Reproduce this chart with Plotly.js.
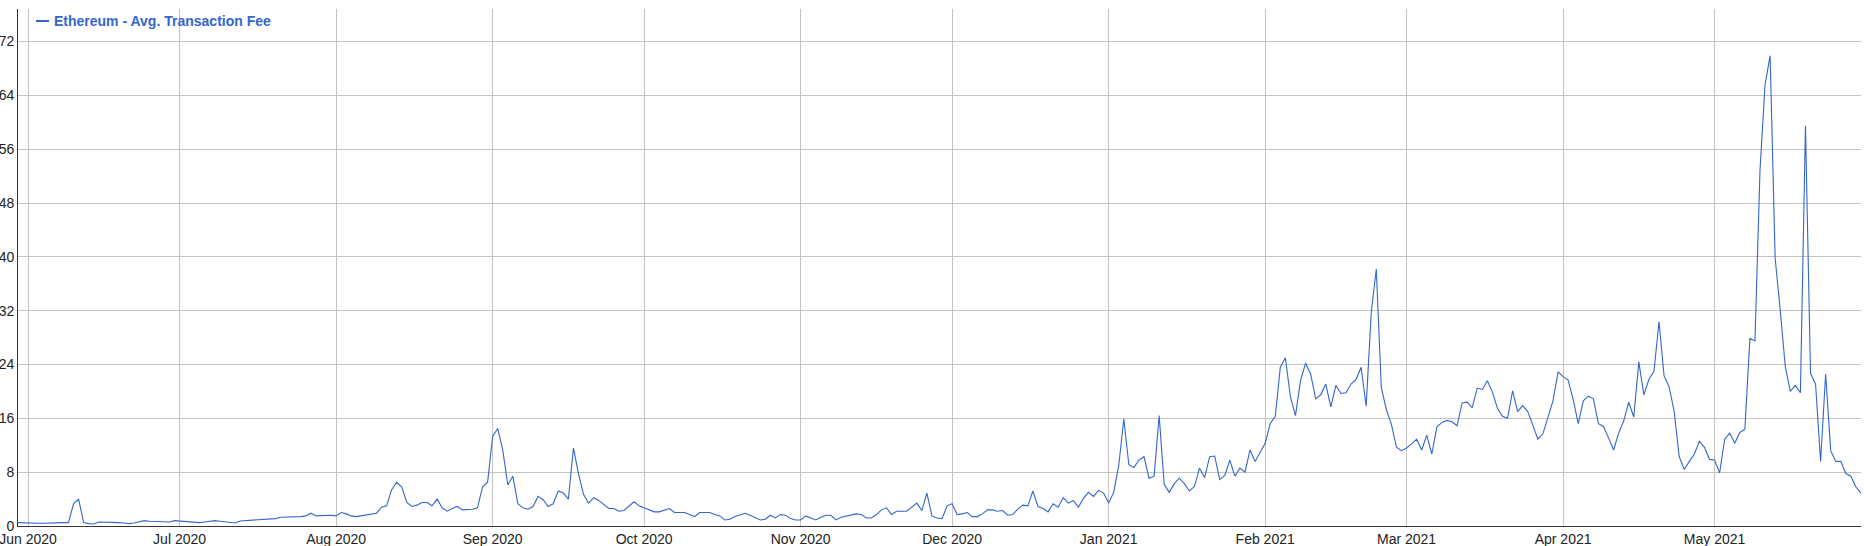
<!DOCTYPE html>
<html>
<head>
<meta charset="utf-8">
<script src="https://cdn.plot.ly/plotly-3.0.1.min.js"></script>
<style>
  html, body { margin: 0; padding: 0; background: #ffffff; }
  #chart { width: 1864px; height: 546px; }
</style>
</head>
<body>
<div id="chart"></div>
<script>
// ---- Data: Ethereum average transaction fee (USD), daily, 30 May 2020 – 30 May 2021 ----
var seriesName = "Ethereum - Avg. Transaction Fee";
var startDate = "2020-05-30";

var fees2020May = [0.5, 0.45];
var fees2020Jun = [0.45, 0.45, 0.4, 0.4, 0.45, 0.45, 0.5, 0.5, 0.5, 3.3,
                   4.0, 0.5, 0.35, 0.3, 0.6, 0.6, 0.6, 0.55, 0.5, 0.45,
                   0.35, 0.45, 0.65, 0.8, 0.7, 0.65, 0.6, 0.6, 0.6, 0.8];
var fees2020Jul = [0.75, 0.7, 0.6, 0.5, 0.5, 0.6, 0.75, 0.8, 0.7, 0.6,
                   0.5, 0.45, 0.75, 0.8, 0.85, 0.9, 0.9, 0.95, 1.0, 1.1,
                   1.3, 1.3, 1.4, 1.4, 1.4, 1.5, 1.9, 1.5, 1.55, 1.5, 1.6];
var fees2020Aug = [1.5, 2.0, 1.8, 1.5, 1.4, 1.5, 1.7, 1.8, 1.9, 2.8,
                   3.0, 5.4, 6.5, 5.8, 3.5, 2.9, 3.1, 3.5, 3.5, 3.0,
                   4.0, 2.7, 2.2, 2.6, 2.9, 2.4, 2.4, 2.5, 2.7, 5.8, 6.5];
var fees2020Sep = [13.3, 14.5, 11.3, 6.1, 7.4, 3.3, 2.7, 2.5, 2.9, 4.4,
                   3.9, 2.9, 3.3, 5.2, 4.9, 4.0, 11.6, 7.8, 4.7, 3.4,
                   4.2, 3.8, 3.2, 2.6, 2.6, 2.2, 2.3, 3.0, 3.6, 3.0];
var fees2020Oct = [2.7, 2.5, 2.1, 2.1, 2.3, 2.6, 2.0, 2.0, 2.0, 1.7,
                   1.4, 2.0, 2.0, 2.0, 1.7, 1.5, 0.9, 1.0, 1.4, 1.7,
                   1.9, 1.6, 1.3, 0.9, 1.0, 1.6, 1.2, 1.7, 1.6, 1.1, 0.9];
var fees2020Nov = [0.9, 1.5, 1.2, 0.9, 1.3, 1.6, 1.6, 0.9, 1.3, 1.5,
                   1.7, 1.8, 1.7, 1.2, 1.2, 1.7, 2.4, 2.7, 1.7, 2.2,
                   2.2, 2.2, 2.8, 3.4, 2.3, 4.9, 1.5, 1.2, 1.1, 3.0];
var fees2020Dec = [3.3, 1.7, 1.8, 2.0, 1.4, 1.4, 1.8, 2.4, 2.4, 2.2,
                   2.3, 1.6, 1.7, 2.5, 3.1, 3.0, 5.2, 2.9, 2.6, 2.1,
                   3.3, 2.8, 4.2, 3.4, 3.8, 2.8, 4.1, 5.0, 4.4, 5.3, 4.9];
var fees2021Jan = [3.4, 5.0, 9.0, 15.9, 9.1, 8.7, 9.8, 10.3, 7.1, 7.4,
                   16.4, 6.2, 5.0, 6.3, 7.1, 6.3, 5.2, 5.9, 8.6, 7.2,
                   10.3, 10.4, 6.9, 7.5, 9.8, 7.4, 8.6, 8.0, 11.3, 9.6, 11.0];
var fees2021Feb = [12.3, 15.2, 16.3, 23.6, 25.0, 19.2, 16.4, 21.6, 24.2, 22.6,
                   18.9, 19.5, 21.1, 17.7, 20.9, 19.7, 19.8, 21.1, 21.8, 23.6,
                   17.8, 31.7, 38.2, 20.6, 17.3, 15.1, 11.7, 11.2];
var fees2021Mar = [11.6, 12.2, 12.9, 11.3, 13.5, 10.7, 14.7, 15.4, 15.7, 15.5,
                   14.9, 18.3, 18.4, 17.6, 20.5, 20.3, 21.6, 19.9, 17.5, 16.3,
                   16.0, 20.1, 17.0, 17.9, 17.0, 15.0, 12.9, 13.7, 16.3, 18.6, 22.9];
var fees2021Apr = [22.2, 21.7, 18.8, 15.2, 18.6, 19.3, 18.9, 15.2, 14.8, 13.1,
                   11.3, 13.8, 15.6, 18.4, 16.2, 24.4, 19.5, 21.8, 23.0, 30.4,
                   22.3, 20.7, 17.0, 10.3, 8.4, 9.6, 10.7, 12.6, 11.7, 9.9];
var fees2021May = [9.8, 7.9, 12.9, 13.8, 12.3, 13.9, 14.4, 27.9, 27.5, 52.9,
                   65.6, 69.9, 39.8, 32.1, 23.7, 20.0, 20.9, 19.8, 59.5, 22.7,
                   21.1, 9.6, 22.6, 11.2, 9.6, 9.6, 7.8, 7.4, 5.8, 4.9];

var yTicks = [0, 8, 16, 24, 32, 40, 48, 56, 64, 72];
var xTickDates = ["2020-06-01", "2020-07-01", "2020-08-01", "2020-09-01", "2020-10-01", "2020-11-01",
                  "2020-12-01", "2021-01-01", "2021-02-01", "2021-03-01", "2021-04-01", "2021-05-01"];
var xTickLabels = ["Jun 2020", "Jul 2020", "Aug 2020", "Sep 2020", "Oct 2020", "Nov 2020",
                   "Dec 2020", "Jan 2021", "Feb 2021", "Mar 2021", "Apr 2021", "May 2021"];

// ---- Build the daily series ----
var fees = [].concat(fees2020May, fees2020Jun, fees2020Jul, fees2020Aug, fees2020Sep,
  fees2020Oct, fees2020Nov, fees2020Dec, fees2021Jan, fees2021Feb, fees2021Mar,
  fees2021Apr, fees2021May);
var dates = [];
var t0 = Date.parse(startDate + "T00:00:00Z");
for (var i = 0; i < fees.length; i++) {
  dates.push(new Date(t0 + i * 86400000).toISOString().slice(0, 10));
}

var FONT = "Liberation Sans, Arial, sans-serif";
var BLUE = "#3366cc";
var GRID = "#c4c4c4";

// plot area in pixels: left 18, right 1861, top 9, bottom 526
var plotL = 18, plotR = 1861, plotT = 9, plotB = 526;
var W = plotR - plotL, H = plotB - plotT;
function px(xp) { return (xp - plotL) / W; }
function py(yp) { return (plotB - yp) / H; }

var trace = {
  type: "scatter",
  mode: "lines",
  name: seriesName,
  x: dates,
  y: fees,
  line: { color: BLUE, width: 1.1 },
  hoverinfo: "x+y"
};

var layout = {
  width: 1864,
  height: 546,
  margin: { l: plotL, r: 1864 - plotR, t: plotT, b: 546 - plotB, pad: 0 },
  paper_bgcolor: "#ffffff",
  plot_bgcolor: "#ffffff",
  showlegend: false,
  font: { family: FONT, size: 14, color: "#222222" },
  xaxis: {
    type: "date",
    range: ["2020-05-30", "2021-05-30"],
    tickmode: "array",
    tickvals: xTickDates,
    ticktext: xTickLabels,
    showgrid: true,
    gridcolor: GRID,
    gridwidth: 1,
    zeroline: false,
    showline: true,
    linecolor: "#333333",
    linewidth: 1,
    ticks: "",
    ticklabelstandoff: 0,
    ticklabeloverflow: "allow",
    tickfont: { family: FONT, size: 14, color: "#222222" },
    automargin: false
  },
  yaxis: {
    range: [0, 76.84],
    tickmode: "array",
    tickvals: yTicks,
    ticktext: yTicks.map(String),
    showgrid: true,
    gridcolor: GRID,
    gridwidth: 1,
    zeroline: false,
    showline: true,
    linecolor: "#333333",
    linewidth: 1,
    ticks: "",
    ticklabelstandoff: 0,
    ticklabeloverflow: "allow",
    tickfont: { family: FONT, size: 14, color: "#222222" },
    automargin: false
  },
  shapes: [
    {
      type: "line", xref: "paper", yref: "paper",
      x0: px(36), x1: px(49), y0: py(21), y1: py(21),
      line: { color: BLUE, width: 2 }
    }
  ],
  annotations: [
    {
      xref: "paper", yref: "paper",
      x: px(53), y: py(21),
      xanchor: "left", yanchor: "middle",
      showarrow: false,
      text: "<b>" + seriesName + "</b>",
      font: { family: FONT, size: 14, color: BLUE },
      borderpad: 0
    }
  ]
};

Plotly.newPlot("chart", [trace], layout, { displayModeBar: false, staticPlot: true });
</script>
</body>
</html>
